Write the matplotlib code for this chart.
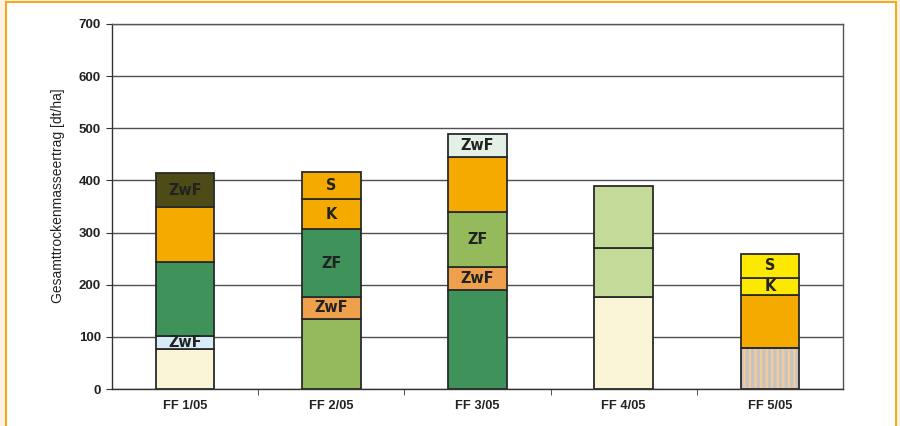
import matplotlib
matplotlib.use("Agg")
import matplotlib.pyplot as plt
import numpy as np
from matplotlib.patches import Rectangle

# categories and stacked segments (bottom -> top), values in dt/ha
categories = ["FF 1/05", "FF 2/05", "FF 3/05", "FF 4/05", "FF 5/05"]

ff1_values = [76, 25, 143, 105, 65]
ff2_values = [134, 43, 129, 58, 53]
ff3_values = [190, 44, 105, 106, 44]
ff4_values = [176, 95, 119]
ff5_values = [78, 102, 33, 46]

ff1_labels = ["", "ZwF", "", "", "ZwF"]
ff2_labels = ["", "ZwF", "ZF", "K", "S"]
ff3_labels = ["", "ZwF", "ZF", "", "ZwF"]
ff4_labels = ["", "", ""]
ff5_labels = ["", "", "K", "S"]

ff1_colors = ["#f9f5d6", "#d6edf8", "#3f925a", "#f5aa00", "#4d4b16"]
ff2_colors = ["#95ba5b", "#eea04d", "#3f925a", "#f5aa00", "#f5aa00"]
ff3_colors = ["#3f925a", "#eea04d", "#95ba5b", "#f5aa00", "#e3f0e6"]
ff4_colors = ["#f9f5d6", "#c3da98", "#c3da98"]
ff5_colors = ["#f8cb96", "#f5aa00", "#fde800", "#fde800"]
ff5_hatch = ["|||", "", "", ""]

all_values = [ff1_values, ff2_values, ff3_values, ff4_values, ff5_values]
all_labels = [ff1_labels, ff2_labels, ff3_labels, ff4_labels, ff5_labels]
all_colors = [ff1_colors, ff2_colors, ff3_colors, ff4_colors, ff5_colors]
all_hatch = [[""] * 5, [""] * 5, [""] * 5, [""] * 3, ff5_hatch]

plt.rcParams["font.family"] = ["Liberation Sans", "DejaVu Sans"]
plt.rcParams["hatch.linewidth"] = 2.4

fig = plt.figure(figsize=(9, 4.26), dpi=100)
fig.patch.set_facecolor("#fdf3e3")
# white panel with orange frame
fig.patches.append(Rectangle((6 / 900, -0.05), 890 / 900, 1 - 2 / 426 + 0.05,
                             transform=fig.transFigure, facecolor="white",
                             edgecolor="#f7a823", linewidth=1.5, zorder=-5))

ax = fig.add_axes([112 / 900, 1 - 389 / 426, (843 - 112) / 900, (389 - 24) / 426])
ax.set_facecolor("white")

x = np.arange(len(categories))
width = 0.4
for i in range(len(categories)):
    bottom = 0
    for v, lab, col, h in zip(all_values[i], all_labels[i], all_colors[i], all_hatch[i]):
        if h:
            ax.bar(x[i], v, width, bottom=bottom, color=col, edgecolor="#c4c4c4",
                   hatch=h, linewidth=0, zorder=3)
            ax.bar(x[i], v, width, bottom=bottom, fill=False, edgecolor="#2a2a2a",
                   linewidth=1.3, zorder=4)
        else:
            ax.bar(x[i], v, width, bottom=bottom, color=col, edgecolor="#2a2a2a",
                   linewidth=1.3, zorder=3)
        if lab:
            ax.text(x[i], bottom + v / 2, lab, ha="center", va="center",
                    fontsize=11.5, fontweight="bold", color="#222222",
                    family="DejaVu Sans", stretch="condensed", zorder=5)
        bottom += v

ax.set_xlim(-0.5, len(categories) - 0.5)
ax.set_ylim(0, 700)
ax.set_yticks(np.arange(0, 701, 100))
ax.yaxis.grid(True, color="#505050", linewidth=1.0, zorder=0)
ax.set_axisbelow(True)

ax.set_xticks(x)
ax.set_xticklabels(categories, fontsize=9.3, fontweight="bold", color="#222222")
ax.tick_params(axis="x", length=0, pad=8)
ax.set_xticks(np.arange(0.5, len(categories) - 0.5, 1), minor=True)
ax.tick_params(axis="x", which="minor", length=4, color="#333333", direction="out")
for lbl in ax.get_yticklabels():
    lbl.set_fontweight("bold")
ax.tick_params(axis="y", labelsize=9.5, labelcolor="#222222", length=4,
               color="#333333", pad=4)

for s in ax.spines.values():
    s.set_color("#333333")
    s.set_linewidth(1.0)
ax.spines["right"].set_color("#555555")
ax.spines["top"].set_color("#555555")

ax.set_ylabel("Gesamttrockenmasseertrag [dt/ha]", fontsize=10, color="#222222")
ax.yaxis.set_label_coords(-0.064, 0.53)

fig.savefig("out.png", dpi=100, facecolor=fig.get_facecolor())
